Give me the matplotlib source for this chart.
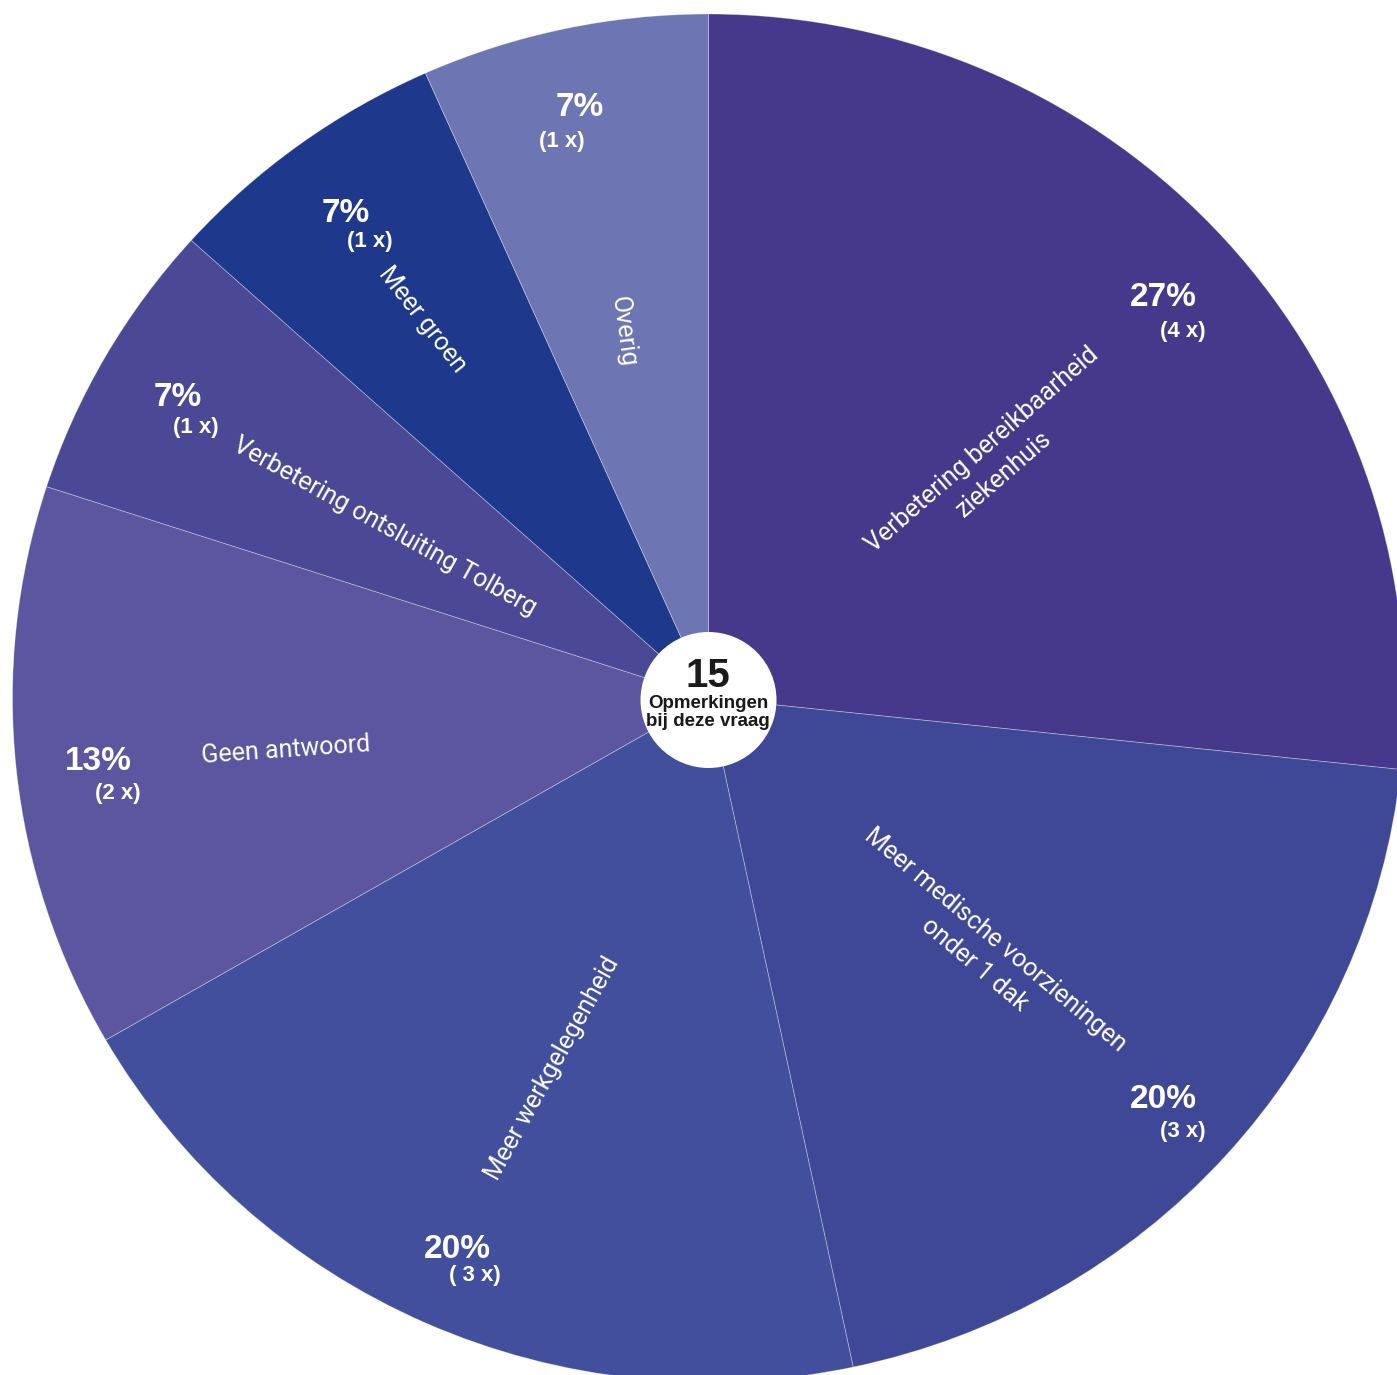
import matplotlib.pyplot as plt
from matplotlib.patches import Ellipse

# Data
categories = ['Verbetering bereikbaarheid\nziekenhuis',
              'Meer medische voorzieningen\nonder 1 dak',
              'Meer werkgelegenheid',
              'Geen antwoord',
              'Verbetering ontsluiting Tolberg',
              'Meer groen',
              'Overig']
counts = [4, 3, 3, 2, 1, 1, 1]
pct_labels = ['27%', '20%', '20%', '13%', '7%', '7%', '7%']
count_labels = ['(4 x)', '(3 x)', '( 3 x)', '(2 x)', '(1 x)', '(1 x)', '(1 x)']
total = 15

colors = ['#46398b', '#3f4897', '#414f9c', '#5b569f', '#4b4995', '#1e388c', '#6d76b2']

W, H = 1397, 1375
fig = plt.figure(figsize=(W / 100, H / 100), dpi=100)
ax = fig.add_axes([0, 0, 1, 1])

# pie is slightly elliptical in the reference (stretched image)
cx, cy, rx, ry = 708.5, 698, 696, 684

ax.pie(counts, colors=colors, startangle=90, counterclock=False,
       center=(0, 0), radius=1, frame=True,
       wedgeprops=dict(edgecolor=(1, 1, 1, 0.35), linewidth=0.6))
ax.set_aspect('auto')
ax.set_xlim(-cx / rx, (W - cx) / rx)
ax.set_ylim(-(H - cy) / ry, cy / ry)
ax.axis('off')

label_font = 'Roboto'
bold_font = 'Liberation Sans'


def px(x, y):
    # pixel position (from top-left) -> figure fraction
    return x / W, 1 - y / H


# category labels (x, y in pixels from top-left, rotation)
label_pos = [(993, 462, 41), (985, 952, -40), (552, 1068, 61), (286, 750, 4),
             (385, 527, -29), (423, 320, -52), (623, 332, -82)]
pct_pos = [(1163, 297), (1163, 1100), (457, 1249), (98, 762),
           (178, 398), (346, 213), (580, 108)]
cnt_pos = [(1183, 331), (1183, 1131), (475, 1276), (118, 794),
           (196, 428), (370, 242), (562, 141)]

for i, name in enumerate(categories):
    x, y, rot = label_pos[i]
    fig.text(*px(x, y), name, rotation=rot, rotation_mode='anchor', ha='center', va='center',
             color='white', fontsize=18, family=label_font, fontweight='normal',
             linespacing=1.45)
    fig.text(*px(*pct_pos[i]), pct_labels[i], ha='center', va='center', color='white',
             fontsize=24, family=bold_font, fontweight='bold')
    fig.text(*px(*cnt_pos[i]), count_labels[i], ha='center', va='center', color='white',
             fontsize=16, family=bold_font, fontweight='bold')

# center circle
ax.add_patch(Ellipse((0, -2 / ry), 136 / rx, 136 / ry, facecolor='white',
                     edgecolor='none', zorder=5))
fig.text(*px(708, 676), str(total), ha='center', va='center', fontsize=29,
         family=bold_font, fontweight='bold', color='#1a1a1a', zorder=6)
fig.text(*px(708, 704), 'Opmerkingen', ha='center', va='center', fontsize=13.5,
         family=bold_font, fontweight='bold', color='#1a1a1a', zorder=6)
fig.text(*px(708, 722), 'bij deze vraag', ha='center', va='center', fontsize=13.5,
         family=bold_font, fontweight='bold', color='#1a1a1a', zorder=6)

fig.savefig('out.png', dpi=100, facecolor='white')
